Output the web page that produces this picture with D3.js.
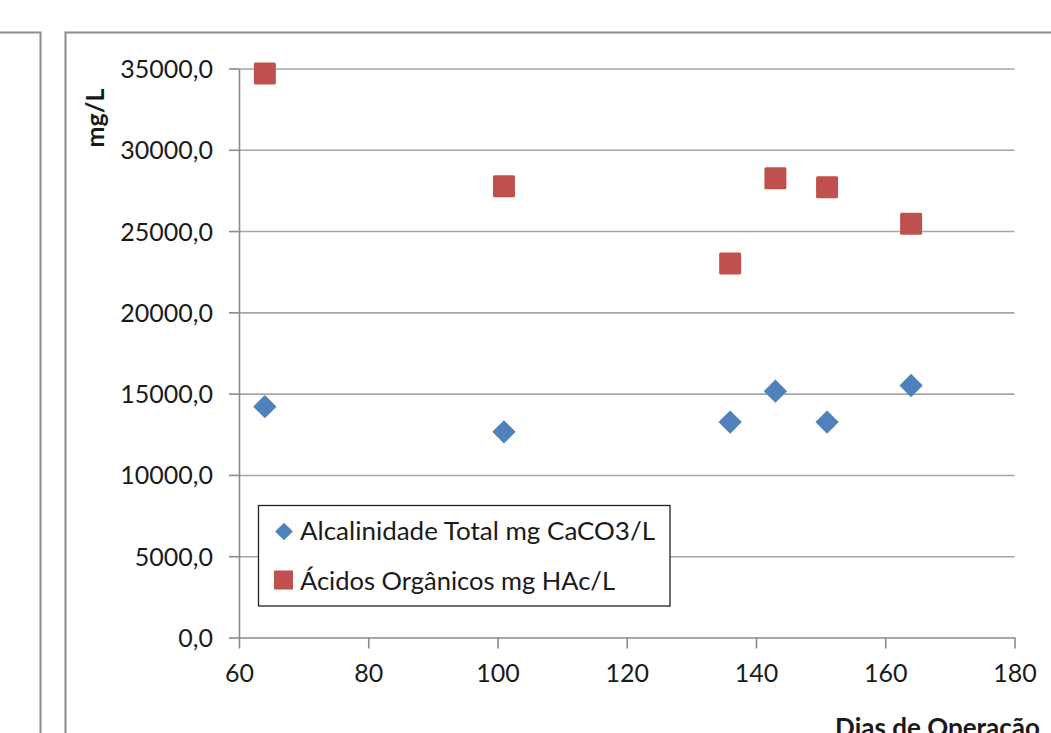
<!DOCTYPE html>
<html>
<head>
<meta charset="utf-8">
<script src="https://cdn.jsdelivr.net/npm/d3@7"></script>
<style>
  html, body { margin: 0; padding: 0; background: #fff; }
  svg { display: block; }
  text { font-family: Lato, "Open Sans", sans-serif; fill: #1a1a1a; }
</style>
</head>
<body>
<svg id="chart" width="1051" height="733"></svg>
<script>
// ---- data ----
const days = [64, 101, 136, 143, 151, 164];
const alcalinidade = [14200, 12650, 13250, 15150, 13250, 15500];
const acidos = [34700, 27750, 23000, 28250, 27700, 25450];
const seriesNames = ["Alcalinidade Total mg CaCO3/L", "Ácidos Orgânicos mg HAc/L"];
const xTicks = [60, 80, 100, 120, 140, 160, 180];
const yTicks = [0, 5000, 10000, 15000, 20000, 25000, 30000, 35000];
const xTitle = "Dias de Operação";
const yTitle = "mg/L";

(function () {
// ---- layout ----
const svg = d3.select("#chart");
const pl = 239, pr = 1014.5, pt = 68.5, pb = 637.5;
const x = d3.scaleLinear().domain([60, 180]).range([pl, pr]);
const y = d3.scaleLinear().domain([0, 35000]).range([pb, pt]);
const blue = "#4F81BD", red = "#C0504D";
const fmt = v => d3.format(".1f")(v).replace(".", ",");

// outer frames
svg.append("path").attr("d", "M0,32.5 H40.5 V733")
  .attr("fill", "none").attr("stroke", "#8c8c8c").attr("stroke-width", 2);
svg.append("path").attr("d", "M65.5,733 V32.5 H1051")
  .attr("fill", "none").attr("stroke", "#8c8c8c").attr("stroke-width", 2);

// gridlines
const grid = svg.append("g").attr("transform", `translate(${pl},0)`)
  .call(d3.axisLeft(y).tickValues(yTicks.filter(v => v > 0)).tickSize(-(pr - pl)).tickFormat(""));
grid.select(".domain").remove();
grid.selectAll("line").attr("stroke", "#a6a6a6").attr("stroke-width", 1.6);

// y axis
const ya = svg.append("g").attr("transform", `translate(${pl},0)`)
  .call(d3.axisLeft(y).tickValues(yTicks).tickSize(10).tickSizeOuter(0).tickPadding(16).tickFormat(fmt));
ya.select(".domain").attr("stroke", "#8a8a8a").attr("stroke-width", 1.6);
ya.selectAll(".tick line").attr("stroke", "#8a8a8a").attr("stroke-width", 1.6);
ya.selectAll(".tick text").attr("font-size", 25).attr("font-family", "Lato, sans-serif")
  .attr("fill", "#1a1a1a").attr("dy", "0.36em");

// x axis
const xa = svg.append("g").attr("transform", `translate(0,${pb})`)
  .call(d3.axisBottom(x).tickValues(xTicks).tickSize(11).tickSizeOuter(0).tickPadding(22).tickFormat(d3.format("d")));
xa.select(".domain").attr("stroke", "#8a8a8a").attr("stroke-width", 1.6);
xa.selectAll(".tick line").attr("stroke", "#8a8a8a").attr("stroke-width", 1.6);
xa.selectAll(".tick text").attr("font-size", 25).attr("font-family", "Lato, sans-serif")
  .attr("fill", "#1a1a1a").attr("dy", "0.45em");

// axis titles
svg.append("text").attr("transform", "translate(104,118) rotate(-90)")
  .attr("text-anchor", "middle").attr("font-size", 25).attr("font-weight", "bold").text(yTitle);
svg.append("text").attr("x", 1040).attr("y", 737).attr("text-anchor", "end")
  .attr("font-size", 26).attr("font-weight", "bold").text(xTitle);

// markers
const diamond = d3.symbol().type(d3.symbolSquare).size(16.5 * 16.5);
svg.append("g").selectAll("path").data(days).join("path")
  .attr("d", diamond)
  .attr("transform", (d, i) => `translate(${x(d)},${y(alcalinidade[i])}) rotate(45)`)
  .attr("fill", blue);

const sq = 22;
svg.append("g").selectAll("rect").data(days).join("rect")
  .attr("x", d => x(d) - sq / 2)
  .attr("y", (d, i) => y(acidos[i]) - sq / 2)
  .attr("width", sq).attr("height", sq).attr("rx", 1.5)
  .attr("fill", red);

// legend
const lg = svg.append("g");
lg.append("rect").attr("x", 258.5).attr("y", 505.5).attr("width", 411.5).attr("height", 100.5)
  .attr("fill", "#fff").attr("stroke", "#222").attr("stroke-width", 1.3);
lg.append("path").attr("d", d3.symbol().type(d3.symbolSquare).size(12.5 * 12.5))
  .attr("transform", "translate(284,531.5) rotate(45)").attr("fill", blue);
lg.append("rect").attr("x", 274).attr("y", 570.5).attr("width", 19).attr("height", 19).attr("fill", red);
lg.append("text").attr("x", 300).attr("y", 540).attr("font-size", 25)
  .attr("textLength", 355).attr("lengthAdjust", "spacingAndGlyphs").text(seriesNames[0]);
lg.append("text").attr("x", 300).attr("y", 590).attr("font-size", 25)
  .attr("textLength", 315).attr("lengthAdjust", "spacingAndGlyphs").text(seriesNames[1]);
})();
</script>
</body>
</html>
